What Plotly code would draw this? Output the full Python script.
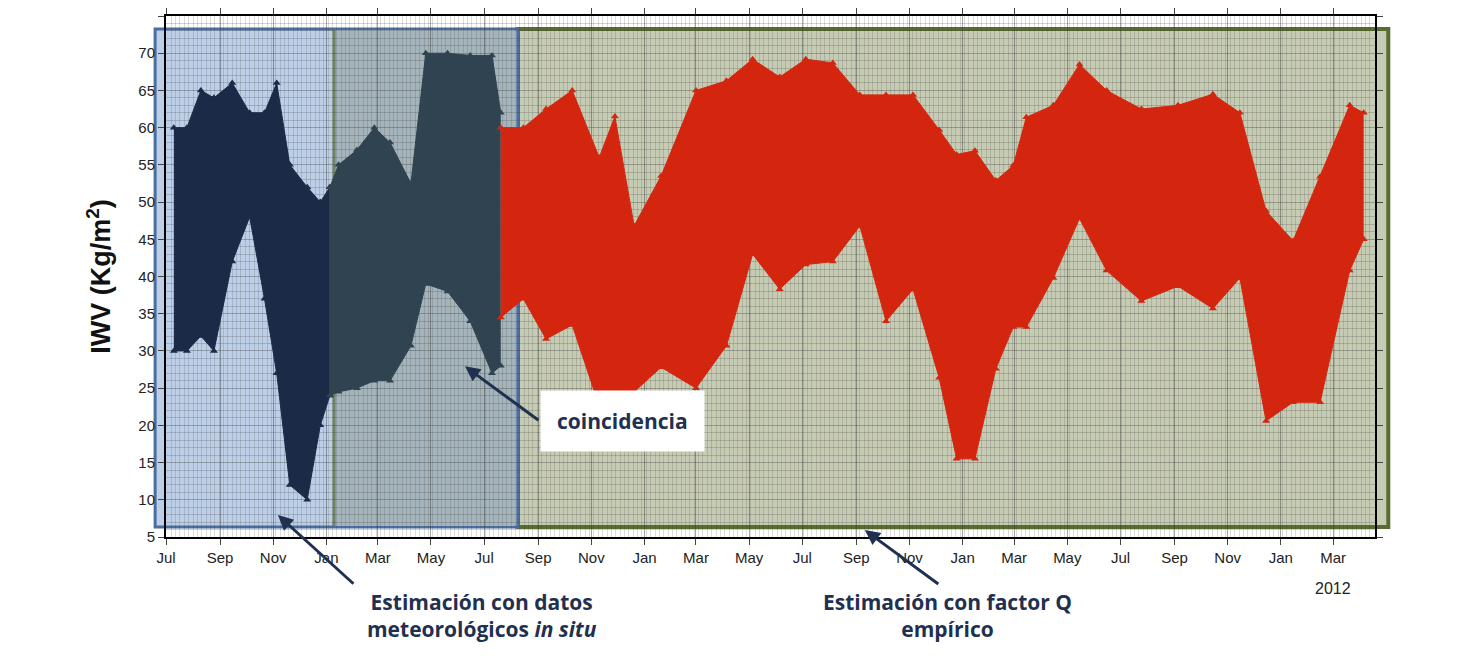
import plotly.graph_objects as go

# in situ estimate (dark), read as low / high envelope of the dense point cloud
insitu_dates = ["2008-07-10", "2008-07-25", "2008-08-10", "2008-08-25", "2008-09-15", "2008-10-05",
                "2008-10-22", "2008-11-05", "2008-11-20", "2008-12-10", "2008-12-25", "2009-01-05"]
insitu_low = [30, 30, 32, 30, 42, 48, 37, 27, 12, 10, 20, 24]
insitu_high = [60, 60, 65, 64, 66, 62, 62, 66, 55, 52, 50, 52]

coinc_dates = ["2009-01-05", "2009-01-15", "2009-02-05", "2009-02-25", "2009-03-15", "2009-04-08",
               "2009-04-25", "2009-05-20", "2009-06-15", "2009-07-10", "2009-07-20"]
coinc_low = [24, 24.5, 25, 26, 26, 30.7, 39, 38, 34, 27, 28]
coinc_high = [52, 55, 57, 60, 58, 52.5, 70, 70, 69.7, 69.7, 62]

# empirical Q factor estimate (red)
q_dates = ["2009-07-20", "2009-08-15", "2009-09-10", "2009-10-10", "2009-11-10", "2009-11-28",
           "2009-12-20", "2010-01-20", "2010-03-01", "2010-04-05", "2010-05-05", "2010-06-05",
           "2010-07-05", "2010-08-05", "2010-09-05", "2010-10-05", "2010-11-05", "2010-12-05",
           "2010-12-25", "2011-01-15", "2011-02-08", "2011-02-28", "2011-03-15", "2011-04-15",
           "2011-05-15", "2011-06-15", "2011-07-25", "2011-09-05", "2011-10-15", "2011-11-15",
           "2011-12-15", "2012-01-15", "2012-02-15", "2012-03-20", "2012-04-05"]
q_low = [34.5, 37, 31.6, 33.5, 22.6, 22.6, 24.5, 27.8, 25, 30.7, 43, 38.3, 41.6, 42, 46.8, 34,
         38.3, 26.4, 15.5, 15.5, 27.6, 33.2, 33.2, 39.8, 47.8, 40.8, 36.7, 38.7, 35.7, 39.8,
         20.6, 23.1, 23.1, 40.8, 45]
q_high = [60, 60, 62.5, 65, 56, 61.5, 46.8, 53.5, 65, 66.3, 69.2, 66.8, 69.2, 68.7, 64.4, 64.4,
          64.4, 59.7, 56.4, 56.9, 52.9, 54.9, 61.4, 63, 68.5, 65, 62.5, 63, 64.5, 62, 48.8, 44.8,
          53.4, 63, 62]

fig = go.Figure()


def band(dates, low, high, color):
    fig.add_trace(go.Scatter(x=dates, y=low, mode="lines+markers", line=dict(color=color, width=1),
                             marker=dict(symbol="triangle-up", size=7, color=color), showlegend=False))
    fig.add_trace(go.Scatter(x=dates, y=high, mode="lines+markers", line=dict(color=color, width=1),
                             marker=dict(symbol="triangle-up", size=7, color=color),
                             fill="tonexty", fillcolor=color, showlegend=False))


band(insitu_dates, insitu_low, insitu_high, "#1b2a46")
band(coinc_dates, coinc_low, coinc_high, "#2f4450")
band(q_dates, q_low, q_high, "#d4260f")

shapes = [
    dict(type="rect", xref="paper", yref="paper", x0=0.291, x1=1.011, y0=0.019, y1=0.975,
         fillcolor="#c6cbb3", line=dict(color="#586c2e", width=4), layer="below"),
    dict(type="rect", xref="paper", yref="paper", x0=-0.009, x1=0.291, y0=0.019, y1=0.975,
         fillcolor="#bccfe6", line=dict(color="#4a6e9e", width=3), layer="below"),
    dict(type="rect", xref="paper", yref="paper", x0=0.139, x1=0.289, y0=0.021, y1=0.973,
         fillcolor="#a4b4ba", line=dict(color="#6f8460", width=0), layer="below"),
    dict(type="line", xref="paper", yref="paper", x0=0.139, x1=0.139, y0=0.021, y1=0.973,
         line=dict(color="#6f8460", width=3), layer="below"),
]

navy = "#1f3050"
font_txt = dict(family="Open Sans", size=21, color=navy)
annotations = [
    dict(x=0.0926, y=0.042, xref="paper", yref="paper", ax=77, ay=70, showarrow=True,
         arrowhead=2, arrowsize=1, arrowwidth=3, arrowcolor=navy, text=""),
    dict(x=0.2473, y=0.3276, xref="paper", yref="paper", ax=75, ay=55, showarrow=True,
         arrowhead=2, arrowsize=1, arrowwidth=3, arrowcolor=navy, text=""),
    dict(x=0.578, y=0.0133, xref="paper", yref="paper", ax=75, ay=55, showarrow=True,
         arrowhead=2, arrowsize=1, arrowwidth=3, arrowcolor=navy, text=""),
    dict(x=0.3094, y=0.1638, xref="paper", yref="paper", showarrow=False,
         text="<b>coincidencia</b>", font=font_txt, bgcolor="white", borderpad=16),
    dict(x=0.1646, y=-0.095, xref="paper", yref="paper", yanchor="top", showarrow=False,
         text="<b>Estimación con datos<br>meteorológicos <i>in situ</i></b>", font=font_txt),
    dict(x=0.646, y=-0.095, xref="paper", yref="paper", yanchor="top", showarrow=False,
         text="<b>Estimación con factor Q<br>empírico</b>", font=font_txt),
    dict(x="2012-03-01", y=-0.078, xref="x", yref="paper", yanchor="top", showarrow=False,
         text="2012", font=dict(family="Liberation Sans", size=16, color="#222")),
]

fig.update_layout(
    width=1458, height=664, margin=dict(l=158, r=91, t=0, b=135),
    paper_bgcolor="white", plot_bgcolor="white",
    shapes=shapes, annotations=annotations,
    font=dict(family="Liberation Sans", size=15, color="#222"),
    xaxis=dict(type="date", range=["2008-07-01", "2012-04-18"], tick0="2008-07-01", dtick="M2",
               tickformat="%b", ticks="outside", ticklen=6, showline=True, linecolor="black",
               linewidth=2, mirror="ticks", gridcolor="rgba(60,60,60,0.45)", gridwidth=1,
               minor=dict(dtick=5 * 86400000, showgrid=True, gridcolor="rgba(60,60,60,0.18)"),
               showgrid=True, zeroline=False),
    yaxis=dict(range=[5, 75], dtick=5, ticks="outside", ticklen=6, showline=True, linecolor="black",
               linewidth=2, mirror="ticks", gridcolor="rgba(60,60,60,0.35)",
               minor=dict(dtick=1, showgrid=True, gridcolor="rgba(60,60,60,0.22)"),
               title=dict(text="<b>IWV (Kg/m<sup>2</sup>)</b>", font=dict(size=27, color="#111"),
                          standoff=20),
               zeroline=False),
)

fig.write_html("out.html")
